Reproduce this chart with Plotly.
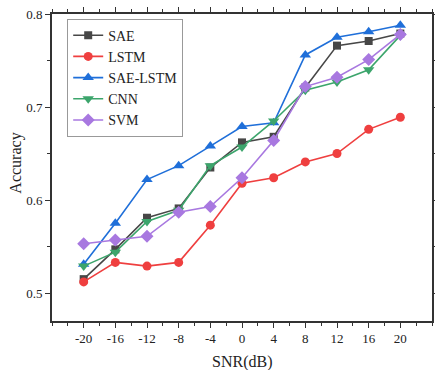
import plotly.graph_objects as go

snr = [-20, -16, -12, -8, -4, 0, 4, 8, 12, 16, 20]
snr_labels = ["-20", "-16", "-12", "-8", "-4", "0", "4", "8", "12", "16", "20"]

sae = [0.515, 0.547, 0.581, 0.591, 0.635, 0.662, 0.668, 0.721, 0.766, 0.771, 0.779]
lstm = [0.512, 0.533, 0.529, 0.533, 0.573, 0.618, 0.624, 0.641, 0.650, 0.676, 0.689]
sae_lstm = [0.531, 0.575, 0.622, 0.637, 0.658, 0.679, 0.683, 0.756, 0.775, 0.781, 0.788]
cnn = [0.529, 0.544, 0.577, 0.589, 0.637, 0.657, 0.685, 0.718, 0.727, 0.740, 0.777]
svm = [0.553, 0.557, 0.561, 0.587, 0.593, 0.624, 0.664, 0.722, 0.732, 0.751, 0.778]

y_ticks = [0.5, 0.6, 0.7, 0.8]
y_labels = ["0.5", "0.6", "0.7", "0.8"]

series = [
    ("SAE", sae, "#474747", "square", 8),
    ("LSTM", lstm, "#ef3f3f", "circle", 9),
    ("SAE-LSTM", sae_lstm, "#1f6fd9", "triangle-up", 10),
    ("CNN", cnn, "#3ca56c", "triangle-down", 10),
    ("SVM", svm, "#a878e0", "diamond", 10),
]

FONT = "'Liberation Serif', 'Times New Roman', Times, serif"

fig = go.Figure()
for name, vals, color, sym, size in series:
    fig.add_trace(go.Scatter(
        x=snr, y=vals, name=name, mode="lines+markers",
        line=dict(color=color, width=1.6),
        marker=dict(symbol=sym, size=size, color=color),
    ))

axis_common = dict(
    showline=True, linecolor="#333333", linewidth=1.6, mirror="allticks",
    ticks="outside", ticklen=5, tickwidth=1.2, tickcolor="#333333",
    showgrid=False, zeroline=False, automargin=False,
    tickfont=dict(family=FONT, size=13, color="#222222"),
)

fig.update_xaxes(
    range=[-24, 24], tickmode="array", tickvals=snr, ticktext=snr_labels,
    minor=dict(tickmode="linear", tick0=0, dtick=2, ticks="outside", ticklen=3, tickcolor="#333333", tickwidth=1),
    **axis_common,
)
fig.update_yaxes(
    range=[0.47, 0.8], tickmode="array", tickvals=y_ticks, ticktext=y_labels,
    minor=dict(tickmode="linear", tick0=0, dtick=0.05, ticks="outside", ticklen=3, tickcolor="#333333", tickwidth=1),
    **axis_common,
)

fig.add_annotation(
    text="SNR(dB)", xref="paper", yref="paper", x=0.5, y=-0.1326,
    xanchor="center", yanchor="middle", showarrow=False,
    font=dict(family=FONT, size=16, color="#222222"),
)
fig.add_annotation(
    text="Accuracy", xref="paper", yref="paper", x=-0.097, y=0.513,
    xanchor="center", yanchor="middle", showarrow=False, textangle=-90,
    font=dict(family=FONT, size=16, color="#222222"),
)

fig.update_layout(
    width=435, height=370,
    margin=dict(l=52, r=3, t=14, b=49, autoexpand=False),
    paper_bgcolor="white", plot_bgcolor="white",
    font=dict(family=FONT, color="#222222"),
    legend=dict(
        x=0.04, y=0.985, xanchor="left", yanchor="top",
        bgcolor="white", bordercolor="#999999", borderwidth=1,
        font=dict(family=FONT, size=14, color="#222222"),
        tracegroupgap=0, itemwidth=30,
    ),
    showlegend=True,
)

fig.write_html(
    "out.html",
    config={"displayModeBar": False},
    post_script="document.body.style.margin='0px';document.body.style.overflow='hidden';",
)
